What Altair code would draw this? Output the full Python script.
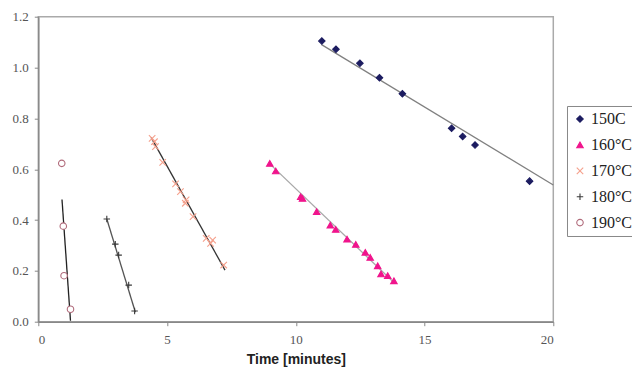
import altair as alt
import pandas as pd

series = ["150C", "160°C", "170°C", "180°C", "190°C"]

t150 = [11.01, 11.56, 12.49, 13.25, 14.14, 16.05, 16.48, 16.96, 19.08]
c150 = [1.104, 1.072, 1.017, 0.960, 0.897, 0.761, 0.729, 0.695, 0.553]
t160 = [8.99, 9.22, 10.19, 10.26, 10.81, 11.34, 11.55, 11.99, 12.33, 12.70, 12.89, 13.18, 13.31, 13.57, 13.81]
c160 = [0.623, 0.593, 0.492, 0.485, 0.433, 0.380, 0.363, 0.325, 0.304, 0.273, 0.253, 0.220, 0.188, 0.181, 0.161]
t170 = [4.42, 4.51, 4.55, 4.83, 5.33, 5.52, 5.71, 5.74, 6.01, 6.52, 6.69, 6.77, 7.20]
c170 = [0.721, 0.708, 0.689, 0.627, 0.542, 0.512, 0.466, 0.479, 0.413, 0.328, 0.308, 0.321, 0.223]
t180 = [2.66, 2.99, 3.12, 3.51, 3.74]
c180 = [0.404, 0.305, 0.262, 0.144, 0.042]
t190 = [0.91, 0.97, 1.00, 1.25]
c190 = [0.623, 0.376, 0.181, 0.049]

# linear trendlines (start / end) per series
fit_t0 = [11.0, 9.0, 4.38, 2.66, 0.92]
fit_t1 = [20.0, 13.8, 7.25, 3.77, 1.25]
fit_c0 = [1.09, 0.62, 0.725, 0.404, 0.481]
fit_c1 = [0.538, 0.155, 0.203, 0.037, 0.004]

point_colors = ["#1c1c60", "#f0148c", "#f5a08c", "#3a3a3a", "#b06a7a"]
fill_colors = ["#1c1c60", "#f0148c", "#ffffff", "#ffffff", "#ffffff"]
line_colors = ["#808080", "#a8a8a8", "#333333", "#555555", "#222222"]
shapes = ["diamond", "triangle-up", "M-1,-1L1,1M-1,1L1,-1", "M-1,0L1,0M0,-1L0,1", "circle"]

rows = []
for name, ts, cs in zip(series, [t150, t160, t170, t180, t190], [c150, c160, c170, c180, c190]):
    for t, c in zip(ts, cs):
        rows.append({"series": name, "t": t, "c": c})
pts = pd.DataFrame(rows)

frows = []
for name, a, b, ya, yb in zip(series, fit_t0, fit_t1, fit_c0, fit_c1):
    frows.append({"fit": name, "t": a, "c": ya})
    frows.append({"fit": name, "t": b, "c": yb})
fits = pd.DataFrame(frows)

serif = "Times New Roman, Liberation Serif, serif"

xs = alt.Scale(domain=[0, 20], nice=False, zero=False)
ys = alt.Scale(domain=[0, 1.2], nice=False)

xax = alt.Axis(values=[0, 5, 10, 15, 20], format="d", title="Time [minutes]", grid=False,
               labelFont=serif, labelFontSize=13, labelColor="#555",
               titleFont="Liberation Sans", titleFontSize=14, titleFontWeight="bold",
               titleColor="#222", titlePadding=6, labelPadding=8)
yax = alt.Axis(values=[0, 0.2, 0.4, 0.6, 0.8, 1.0, 1.2], format=".1f", title=None, grid=False,
               labelFont=serif, labelFontSize=13, labelColor="#555", labelPadding=6)

leg = alt.Legend(title=None)

line_layers = []
for name, lc in zip(series, line_colors):
    line_layers.append(
        alt.Chart(fits).transform_filter(alt.datum.fit == name).mark_line(strokeWidth=1.3, color=lc).encode(
            x=alt.X("t:Q", scale=xs, axis=xax),
            y=alt.Y("c:Q", scale=ys, axis=yax),
        )
    )

points = alt.Chart(pts).mark_point(size=42, strokeWidth=1.1, opacity=1, filled=False).encode(
    x=alt.X("t:Q", scale=xs, axis=xax),
    y=alt.Y("c:Q", scale=ys, axis=yax),
    color=alt.Color("series:N", scale=alt.Scale(domain=series, range=point_colors), legend=leg),
    shape=alt.Shape("series:N", scale=alt.Scale(domain=series, range=shapes), legend=leg),
    fill=alt.Fill("series:N", scale=alt.Scale(domain=series, range=fill_colors), legend=leg),
)

chart = alt.layer(*line_layers, points).properties(
    width=515, height=305,
    autosize=alt.AutoSizeParams(type="none"),
    padding={"left": 30.3, "top": 8.7, "right": 78.7, "bottom": 49},
).configure_view(
    stroke="#aaaaaa", strokeWidth=1.5
).configure_axis(
    domainColor="#888", domainWidth=1.5, tickColor="#888", tickSize=4,
).configure_legend(
    orient="none", legendX=528.7, legendY=89.3,
    strokeColor="#888", fillColor="white", padding=5,
    labelFont=serif, labelFontSize=16, labelColor="#222",
    symbolSize=42, symbolStrokeWidth=1.1, labelOffset=3, rowPadding=9.9,
)

chart.save("out.html", embed_options={"renderer": "svg", "actions": False})
